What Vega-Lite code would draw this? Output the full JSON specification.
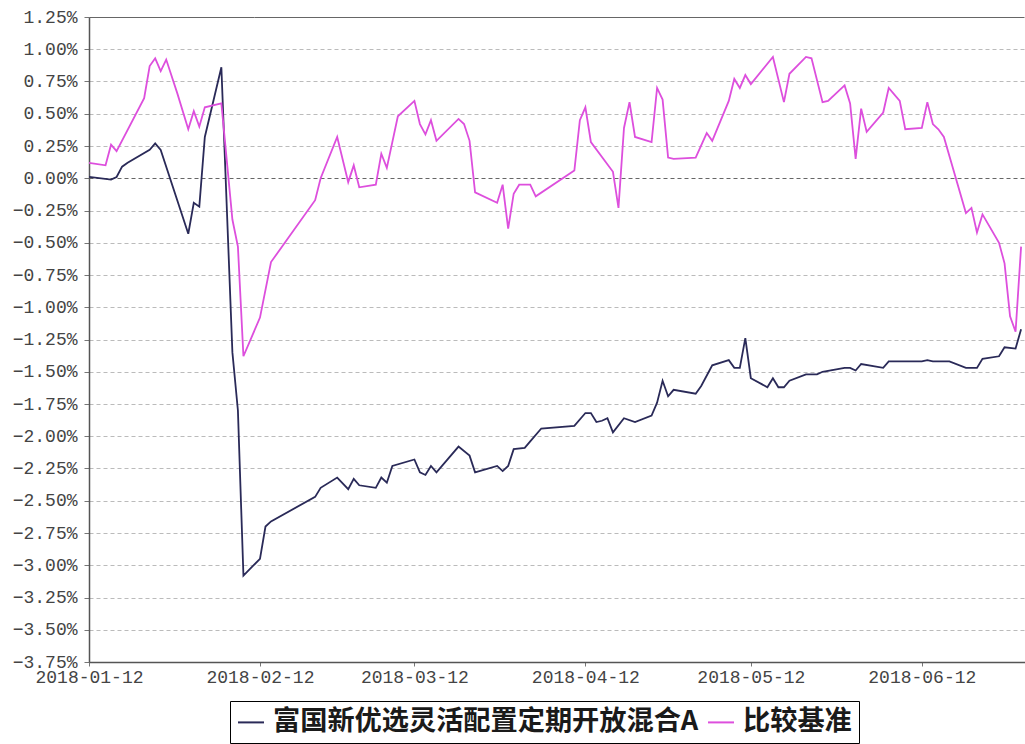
{
  "$schema": "https://vega.github.io/schema/vega-lite/v6.json",
  "width": 936,
  "height": 645,
  "autosize": {"type": "none"},
  "padding": {"left": 89, "top": 17, "right": 0, "bottom": 82},
  "background": "#ffffff",
  "config": {
    "view": {"stroke": null},
    "axis": {
      "labelFont": "Liberation Mono",
      "labelFontSize": 18,
      "labelColor": "#444444",
      "domainColor": "#555555",
      "domainWidth": 1.5,
      "tickColor": "#777777",
      "tickSize": 5,
      "title": null
    },
    "legend": {
      "orient": "none",
      "legendX": 141,
      "legendY": 684,
      "direction": "horizontal",
      "symbolType": "stroke",
      "symbolSize": 676,
      "symbolStrokeWidth": 2,
      "symbolOffset": 0,
      "labelOffset": 8,
      "labelFont": "Noto Sans CJK SC",
      "labelFontSize": 27.2,
      "labelFontWeight": "bold",
      "labelColor": "#1a1a1a",
      "labelLimit": 0,
      "strokeColor": "#000000",
      "padding": 7,
      "columnPadding": 5,
      "title": null
    }
  },
  "datasets": {
    "rows": [
      {"d": "2018-01-12", "s": "富国新优选灵活配置定期开放混合A", "v": 0.01},
      {"d": "2018-01-16", "s": "富国新优选灵活配置定期开放混合A", "v": -0.01},
      {"d": "2018-01-17", "s": "富国新优选灵活配置定期开放混合A", "v": 0.01},
      {"d": "2018-01-18", "s": "富国新优选灵活配置定期开放混合A", "v": 0.09},
      {"d": "2018-01-19", "s": "富国新优选灵活配置定期开放混合A", "v": 0.12},
      {"d": "2018-01-23", "s": "富国新优选灵活配置定期开放混合A", "v": 0.22},
      {"d": "2018-01-24", "s": "富国新优选灵活配置定期开放混合A", "v": 0.27},
      {"d": "2018-01-25", "s": "富国新优选灵活配置定期开放混合A", "v": 0.22},
      {"d": "2018-01-30", "s": "富国新优选灵活配置定期开放混合A", "v": -0.43},
      {"d": "2018-01-31", "s": "富国新优选灵活配置定期开放混合A", "v": -0.19},
      {"d": "2018-02-01", "s": "富国新优选灵活配置定期开放混合A", "v": -0.22},
      {"d": "2018-02-02", "s": "富国新优选灵活配置定期开放混合A", "v": 0.32},
      {"d": "2018-02-05", "s": "富国新优选灵活配置定期开放混合A", "v": 0.86},
      {"d": "2018-02-07", "s": "富国新优选灵活配置定期开放混合A", "v": -1.35},
      {"d": "2018-02-08", "s": "富国新优选灵活配置定期开放混合A", "v": -1.8},
      {"d": "2018-02-09", "s": "富国新优选灵活配置定期开放混合A", "v": -3.08},
      {"d": "2018-02-12", "s": "富国新优选灵活配置定期开放混合A", "v": -2.95},
      {"d": "2018-02-13", "s": "富国新优选灵活配置定期开放混合A", "v": -2.7},
      {"d": "2018-02-14", "s": "富国新优选灵活配置定期开放混合A", "v": -2.66},
      {"d": "2018-02-22", "s": "富国新优选灵活配置定期开放混合A", "v": -2.47},
      {"d": "2018-02-23", "s": "富国新优选灵活配置定期开放混合A", "v": -2.4},
      {"d": "2018-02-26", "s": "富国新优选灵活配置定期开放混合A", "v": -2.32},
      {"d": "2018-02-28", "s": "富国新优选灵活配置定期开放混合A", "v": -2.41},
      {"d": "2018-03-01", "s": "富国新优选灵活配置定期开放混合A", "v": -2.33},
      {"d": "2018-03-02", "s": "富国新优选灵活配置定期开放混合A", "v": -2.38},
      {"d": "2018-03-05", "s": "富国新优选灵活配置定期开放混合A", "v": -2.4},
      {"d": "2018-03-06", "s": "富国新优选灵活配置定期开放混合A", "v": -2.32},
      {"d": "2018-03-07", "s": "富国新优选灵活配置定期开放混合A", "v": -2.36},
      {"d": "2018-03-08", "s": "富国新优选灵活配置定期开放混合A", "v": -2.23},
      {"d": "2018-03-12", "s": "富国新优选灵活配置定期开放混合A", "v": -2.18},
      {"d": "2018-03-13", "s": "富国新优选灵活配置定期开放混合A", "v": -2.28},
      {"d": "2018-03-14", "s": "富国新优选灵活配置定期开放混合A", "v": -2.3},
      {"d": "2018-03-15", "s": "富国新优选灵活配置定期开放混合A", "v": -2.23},
      {"d": "2018-03-16", "s": "富国新优选灵活配置定期开放混合A", "v": -2.28},
      {"d": "2018-03-20", "s": "富国新优选灵活配置定期开放混合A", "v": -2.08},
      {"d": "2018-03-22", "s": "富国新优选灵活配置定期开放混合A", "v": -2.15},
      {"d": "2018-03-23", "s": "富国新优选灵活配置定期开放混合A", "v": -2.28},
      {"d": "2018-03-27", "s": "富国新优选灵活配置定期开放混合A", "v": -2.23},
      {"d": "2018-03-28", "s": "富国新优选灵活配置定期开放混合A", "v": -2.27},
      {"d": "2018-03-29", "s": "富国新优选灵活配置定期开放混合A", "v": -2.23},
      {"d": "2018-03-30", "s": "富国新优选灵活配置定期开放混合A", "v": -2.1},
      {"d": "2018-04-01", "s": "富国新优选灵活配置定期开放混合A", "v": -2.09},
      {"d": "2018-04-02", "s": "富国新优选灵活配置定期开放混合A", "v": -2.04},
      {"d": "2018-04-04", "s": "富国新优选灵活配置定期开放混合A", "v": -1.94},
      {"d": "2018-04-10", "s": "富国新优选灵活配置定期开放混合A", "v": -1.92},
      {"d": "2018-04-12", "s": "富国新优选灵活配置定期开放混合A", "v": -1.82},
      {"d": "2018-04-13", "s": "富国新优选灵活配置定期开放混合A", "v": -1.82},
      {"d": "2018-04-14", "s": "富国新优选灵活配置定期开放混合A", "v": -1.89},
      {"d": "2018-04-15", "s": "富国新优选灵活配置定期开放混合A", "v": -1.88},
      {"d": "2018-04-16", "s": "富国新优选灵活配置定期开放混合A", "v": -1.86},
      {"d": "2018-04-17", "s": "富国新优选灵活配置定期开放混合A", "v": -1.97},
      {"d": "2018-04-19", "s": "富国新优选灵活配置定期开放混合A", "v": -1.86},
      {"d": "2018-04-21", "s": "富国新优选灵活配置定期开放混合A", "v": -1.89},
      {"d": "2018-04-24", "s": "富国新优选灵活配置定期开放混合A", "v": -1.84},
      {"d": "2018-04-25", "s": "富国新优选灵活配置定期开放混合A", "v": -1.74},
      {"d": "2018-04-26", "s": "富国新优选灵活配置定期开放混合A", "v": -1.57},
      {"d": "2018-04-27", "s": "富国新优选灵活配置定期开放混合A", "v": -1.69},
      {"d": "2018-04-28", "s": "富国新优选灵活配置定期开放混合A", "v": -1.64},
      {"d": "2018-05-02", "s": "富国新优选灵活配置定期开放混合A", "v": -1.67},
      {"d": "2018-05-03", "s": "富国新优选灵活配置定期开放混合A", "v": -1.61},
      {"d": "2018-05-05", "s": "富国新优选灵活配置定期开放混合A", "v": -1.45},
      {"d": "2018-05-08", "s": "富国新优选灵活配置定期开放混合A", "v": -1.41},
      {"d": "2018-05-09", "s": "富国新优选灵活配置定期开放混合A", "v": -1.47},
      {"d": "2018-05-10", "s": "富国新优选灵活配置定期开放混合A", "v": -1.47},
      {"d": "2018-05-11", "s": "富国新优选灵活配置定期开放混合A", "v": -1.24},
      {"d": "2018-05-12", "s": "富国新优选灵活配置定期开放混合A", "v": -1.55},
      {"d": "2018-05-15", "s": "富国新优选灵活配置定期开放混合A", "v": -1.62},
      {"d": "2018-05-16", "s": "富国新优选灵活配置定期开放混合A", "v": -1.55},
      {"d": "2018-05-17", "s": "富国新优选灵活配置定期开放混合A", "v": -1.62},
      {"d": "2018-05-18", "s": "富国新优选灵活配置定期开放混合A", "v": -1.62},
      {"d": "2018-05-19", "s": "富国新优选灵活配置定期开放混合A", "v": -1.57},
      {"d": "2018-05-22", "s": "富国新优选灵活配置定期开放混合A", "v": -1.52},
      {"d": "2018-05-24", "s": "富国新优选灵活配置定期开放混合A", "v": -1.52},
      {"d": "2018-05-25", "s": "富国新优选灵活配置定期开放混合A", "v": -1.5},
      {"d": "2018-05-29", "s": "富国新优选灵活配置定期开放混合A", "v": -1.47},
      {"d": "2018-05-30", "s": "富国新优选灵活配置定期开放混合A", "v": -1.47},
      {"d": "2018-05-31", "s": "富国新优选灵活配置定期开放混合A", "v": -1.49},
      {"d": "2018-06-01", "s": "富国新优选灵活配置定期开放混合A", "v": -1.44},
      {"d": "2018-06-05", "s": "富国新优选灵活配置定期开放混合A", "v": -1.47},
      {"d": "2018-06-06", "s": "富国新优选灵活配置定期开放混合A", "v": -1.42},
      {"d": "2018-06-12", "s": "富国新优选灵活配置定期开放混合A", "v": -1.42},
      {"d": "2018-06-13", "s": "富国新优选灵活配置定期开放混合A", "v": -1.41},
      {"d": "2018-06-14", "s": "富国新优选灵活配置定期开放混合A", "v": -1.42},
      {"d": "2018-06-17", "s": "富国新优选灵活配置定期开放混合A", "v": -1.42},
      {"d": "2018-06-20", "s": "富国新优选灵活配置定期开放混合A", "v": -1.47},
      {"d": "2018-06-22", "s": "富国新优选灵活配置定期开放混合A", "v": -1.47},
      {"d": "2018-06-23", "s": "富国新优选灵活配置定期开放混合A", "v": -1.4},
      {"d": "2018-06-26", "s": "富国新优选灵活配置定期开放混合A", "v": -1.38},
      {"d": "2018-06-27", "s": "富国新优选灵活配置定期开放混合A", "v": -1.31},
      {"d": "2018-06-29", "s": "富国新优选灵活配置定期开放混合A", "v": -1.32},
      {"d": "2018-06-30", "s": "富国新优选灵活配置定期开放混合A", "v": -1.17},
      {"d": "2018-01-12", "s": "比较基准", "v": 0.12},
      {"d": "2018-01-15", "s": "比较基准", "v": 0.1},
      {"d": "2018-01-16", "s": "比较基准", "v": 0.26},
      {"d": "2018-01-17", "s": "比较基准", "v": 0.21},
      {"d": "2018-01-22", "s": "比较基准", "v": 0.62},
      {"d": "2018-01-23", "s": "比较基准", "v": 0.87},
      {"d": "2018-01-24", "s": "比较基准", "v": 0.93},
      {"d": "2018-01-25", "s": "比较基准", "v": 0.83},
      {"d": "2018-01-26", "s": "比较基准", "v": 0.92},
      {"d": "2018-01-28", "s": "比较基准", "v": 0.66},
      {"d": "2018-01-30", "s": "比较基准", "v": 0.38},
      {"d": "2018-01-31", "s": "比较基准", "v": 0.52},
      {"d": "2018-02-01", "s": "比较基准", "v": 0.4},
      {"d": "2018-02-02", "s": "比较基准", "v": 0.55},
      {"d": "2018-02-05", "s": "比较基准", "v": 0.58},
      {"d": "2018-02-07", "s": "比较基准", "v": -0.32},
      {"d": "2018-02-08", "s": "比较基准", "v": -0.53},
      {"d": "2018-02-09", "s": "比较基准", "v": -1.38},
      {"d": "2018-02-12", "s": "比较基准", "v": -1.08},
      {"d": "2018-02-14", "s": "比较基准", "v": -0.65},
      {"d": "2018-02-22", "s": "比较基准", "v": -0.17},
      {"d": "2018-02-23", "s": "比较基准", "v": 0.0},
      {"d": "2018-02-26", "s": "比较基准", "v": 0.32},
      {"d": "2018-02-28", "s": "比较基准", "v": -0.03},
      {"d": "2018-03-01", "s": "比较基准", "v": 0.1},
      {"d": "2018-03-02", "s": "比较基准", "v": -0.07},
      {"d": "2018-03-05", "s": "比较基准", "v": -0.05},
      {"d": "2018-03-06", "s": "比较基准", "v": 0.19},
      {"d": "2018-03-07", "s": "比较基准", "v": 0.08},
      {"d": "2018-03-09", "s": "比较基准", "v": 0.48},
      {"d": "2018-03-12", "s": "比较基准", "v": 0.6},
      {"d": "2018-03-13", "s": "比较基准", "v": 0.42},
      {"d": "2018-03-14", "s": "比较基准", "v": 0.34},
      {"d": "2018-03-15", "s": "比较基准", "v": 0.45},
      {"d": "2018-03-16", "s": "比较基准", "v": 0.29},
      {"d": "2018-03-20", "s": "比较基准", "v": 0.46},
      {"d": "2018-03-21", "s": "比较基准", "v": 0.42},
      {"d": "2018-03-22", "s": "比较基准", "v": 0.29},
      {"d": "2018-03-23", "s": "比较基准", "v": -0.11},
      {"d": "2018-03-27", "s": "比较基准", "v": -0.19},
      {"d": "2018-03-28", "s": "比较基准", "v": -0.05},
      {"d": "2018-03-29", "s": "比较基准", "v": -0.39},
      {"d": "2018-03-30", "s": "比较基准", "v": -0.12},
      {"d": "2018-03-31", "s": "比较基准", "v": -0.05},
      {"d": "2018-04-02", "s": "比较基准", "v": -0.05},
      {"d": "2018-04-03", "s": "比较基准", "v": -0.14},
      {"d": "2018-04-10", "s": "比较基准", "v": 0.06},
      {"d": "2018-04-11", "s": "比较基准", "v": 0.45},
      {"d": "2018-04-12", "s": "比较基准", "v": 0.55},
      {"d": "2018-04-13", "s": "比较基准", "v": 0.28},
      {"d": "2018-04-17", "s": "比较基准", "v": 0.05},
      {"d": "2018-04-18", "s": "比较基准", "v": -0.23},
      {"d": "2018-04-19", "s": "比较基准", "v": 0.39},
      {"d": "2018-04-20", "s": "比较基准", "v": 0.59},
      {"d": "2018-04-21", "s": "比较基准", "v": 0.32},
      {"d": "2018-04-24", "s": "比较基准", "v": 0.28},
      {"d": "2018-04-25", "s": "比较基准", "v": 0.7},
      {"d": "2018-04-26", "s": "比较基准", "v": 0.61},
      {"d": "2018-04-27", "s": "比较基准", "v": 0.16},
      {"d": "2018-04-28", "s": "比较基准", "v": 0.15},
      {"d": "2018-05-02", "s": "比较基准", "v": 0.16},
      {"d": "2018-05-04", "s": "比较基准", "v": 0.35},
      {"d": "2018-05-05", "s": "比较基准", "v": 0.29},
      {"d": "2018-05-08", "s": "比较基准", "v": 0.6},
      {"d": "2018-05-09", "s": "比较基准", "v": 0.77},
      {"d": "2018-05-10", "s": "比较基准", "v": 0.7},
      {"d": "2018-05-11", "s": "比较基准", "v": 0.8},
      {"d": "2018-05-12", "s": "比较基准", "v": 0.73},
      {"d": "2018-05-16", "s": "比较基准", "v": 0.94},
      {"d": "2018-05-18", "s": "比较基准", "v": 0.59},
      {"d": "2018-05-19", "s": "比较基准", "v": 0.81},
      {"d": "2018-05-22", "s": "比较基准", "v": 0.94},
      {"d": "2018-05-23", "s": "比较基准", "v": 0.93},
      {"d": "2018-05-25", "s": "比较基准", "v": 0.59},
      {"d": "2018-05-26", "s": "比较基准", "v": 0.6},
      {"d": "2018-05-29", "s": "比较基准", "v": 0.72},
      {"d": "2018-05-30", "s": "比较基准", "v": 0.58},
      {"d": "2018-05-31", "s": "比较基准", "v": 0.15},
      {"d": "2018-06-01", "s": "比较基准", "v": 0.54},
      {"d": "2018-06-02", "s": "比较基准", "v": 0.36},
      {"d": "2018-06-05", "s": "比较基准", "v": 0.51},
      {"d": "2018-06-06", "s": "比较基准", "v": 0.7},
      {"d": "2018-06-08", "s": "比较基准", "v": 0.6},
      {"d": "2018-06-09", "s": "比较基准", "v": 0.38},
      {"d": "2018-06-12", "s": "比较基准", "v": 0.39},
      {"d": "2018-06-13", "s": "比较基准", "v": 0.59},
      {"d": "2018-06-14", "s": "比较基准", "v": 0.42},
      {"d": "2018-06-15", "s": "比较基准", "v": 0.38},
      {"d": "2018-06-16", "s": "比较基准", "v": 0.32},
      {"d": "2018-06-20", "s": "比较基准", "v": -0.27},
      {"d": "2018-06-21", "s": "比较基准", "v": -0.23},
      {"d": "2018-06-22", "s": "比较基准", "v": -0.42},
      {"d": "2018-06-23", "s": "比较基准", "v": -0.28},
      {"d": "2018-06-26", "s": "比较基准", "v": -0.5},
      {"d": "2018-06-27", "s": "比较基准", "v": -0.66},
      {"d": "2018-06-28", "s": "比较基准", "v": -1.07},
      {"d": "2018-06-29", "s": "比较基准", "v": -1.19},
      {"d": "2018-06-30", "s": "比较基准", "v": -0.53}
    ]
  },
  "data": {"name": "rows"},
  "mark": {"type": "line", "strokeWidth": 1.8, "clip": true},
  "encoding": {
    "x": {
      "field": "d",
      "type": "temporal",
      "scale": {
        "type": "utc",
        "domain": [
          {"year": 2018, "month": 1, "date": 12, "utc": true},
          {"year": 2018, "month": 6, "date": 30, "hours": 17, "utc": true}
        ],
        "nice": false
      },
      "axis": {
        "values": [
          {"year": 2018, "month": 1, "date": 12, "utc": true},
          {"year": 2018, "month": 2, "date": 12, "utc": true},
          {"year": 2018, "month": 3, "date": 12, "utc": true},
          {"year": 2018, "month": 4, "date": 12, "utc": true},
          {"year": 2018, "month": 5, "date": 12, "utc": true},
          {"year": 2018, "month": 6, "date": 12, "utc": true}
        ],
        "labelExpr": "utcFormat(datum.value, '%Y-%m-%d')",
        "labelFlush": false,
        "labelOverlap": false,
        "labelPadding": 2,
        "tickSize": 4,
        "grid": false
      }
    },
    "y": {
      "field": "v",
      "type": "quantitative",
      "scale": {"domain": [-3.75, 1.25], "nice": false, "zero": false},
      "axis": {
        "values": [-3.75, -3.5, -3.25, -3, -2.75, -2.5, -2.25, -2, -1.75, -1.5, -1.25, -1, -0.75, -0.5, -0.25, 0, 0.25, 0.5, 0.75, 1, 1.25],
        "labelExpr": "format(datum.value, '.2f') + '%'",
        "labelOverlap": false,
        "labelPadding": 7,
        "grid": true,
        "gridColor": {"condition": {"test": "datum.value === 0 || datum.value >= 1.25", "value": "#666666"}, "value": "#bbbbbb"},
        "gridDash": {"condition": {"test": "datum.value >= 1.25", "value": [1, 0]}, "value": [4, 3]},
        "gridWidth": 1.2
      }
    },
    "color": {
      "field": "s",
      "type": "nominal",
      "scale": {
        "domain": ["富国新优选灵活配置定期开放混合A", "比较基准"],
        "range": ["#2a2a58", "#dd4fdd"]
      },
      "legend": {}
    }
  }
}
